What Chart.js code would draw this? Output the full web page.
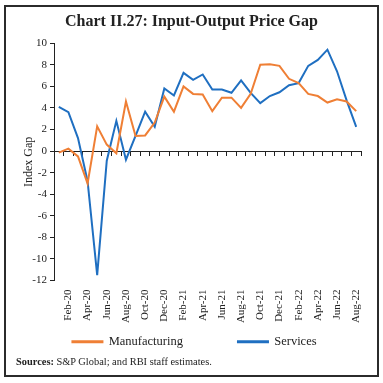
<!DOCTYPE html>
<html>
<head>
<meta charset="utf-8">
<script src="https://cdn.jsdelivr.net/npm/chart.js@4.4.1/dist/chart.umd.min.js"></script>
<style>
    body { margin: 0; background: #fff; }
    #wrap { position: relative; width: 383px; height: 383px; }
    #frame {
        position: absolute; left: 4px; top: 5px; width: 375px; height: 372px;
        border: 2px solid #2b2b2b; box-sizing: border-box; pointer-events: none;
    }
    #source {
        position: absolute; left: 16px; top: 356px;
        font: 10.4px 'Liberation Serif', serif; color: #222;
    }
</style>
</head>
<body>
<div id="wrap">
    <canvas id="gapChart" width="383" height="383"></canvas>
    <div id="frame"></div>
    <div id="source"><b>Sources:</b> S&amp;P Global; and RBI staff estimates.</div>
</div>
<script>
// Monthly input-output price gap, Jan-20 to Aug-22
const months = [
    'Jan-20', 'Feb-20', 'Mar-20', 'Apr-20', 'May-20', 'Jun-20', 'Jul-20', 'Aug-20',
    'Sep-20', 'Oct-20', 'Nov-20', 'Dec-20', 'Jan-21', 'Feb-21', 'Mar-21', 'Apr-21',
    'May-21', 'Jun-21', 'Jul-21', 'Aug-21', 'Sep-21', 'Oct-21', 'Nov-21', 'Dec-21',
    'Jan-22', 'Feb-22', 'Mar-22', 'Apr-22', 'May-22', 'Jun-22', 'Jul-22', 'Aug-22'
];
const manufacturing = [
    -0.15, 0.22, -0.5, -3.0, 2.3, 0.6, -0.2, 4.6,
    1.4, 1.45, 2.65, 5.05, 3.65, 6.0, 5.3, 5.25,
    3.7, 4.95, 4.95, 4.0, 5.3, 8.0, 8.05, 7.9,
    6.7, 6.3, 5.3, 5.1, 4.5, 4.8, 4.6, 3.7
];
const services = [
    4.1, 3.6, 1.2, -2.8, -11.5, -0.9, 2.8, -0.8,
    1.4, 3.65, 2.25, 5.8, 5.15, 7.25, 6.6, 7.1,
    5.7, 5.7, 5.4, 6.55, 5.4, 4.45, 5.1, 5.45,
    6.1, 6.3, 7.9, 8.45, 9.4, 7.4, 4.7, 2.25
];
const yMin = -12;
const yMax = 10;

const serif = "'Liberation Serif', 'DejaVu Serif', serif";
const ink = '#222';

// title and legend are centred on the whole canvas, not the padded area
const centerBoxes = {
    id: 'centerBoxes',
    afterLayout(chart) {
        if (chart.titleBlock) {
            chart.titleBlock.left = 0;
            chart.titleBlock.right = chart.width;
        }
        if (chart.legend) {
            chart.legend.left = 6;
            chart.legend.right = chart.width;
        }
    }
};

new Chart(document.getElementById('gapChart'), {
    type: 'line',
    data: {
        labels: months,
        datasets: [{
            label: 'Manufacturing',
            data: manufacturing,
            borderColor: '#ef7f35',
            backgroundColor: '#ef7f35',
            borderWidth: 2,
            pointRadius: 0,
            tension: 0
        }, {
            label: 'Services',
            data: services,
            borderColor: '#1f6fc1',
            backgroundColor: '#1f6fc1',
            borderWidth: 2,
            pointRadius: 0,
            tension: 0
        }]
    },
    options: {
        responsive: false,
        animation: false,
        layout: { padding: { left: 0, right: 22, top: 0, bottom: 25 } },
        plugins: {
            title: {
                display: true,
                text: 'Chart II.27: Input-Output Price Gap',
                color: ink,
                font: { family: serif, size: 16, weight: 'bold' },
                padding: { top: 12, bottom: 12 }
            },
            legend: {
                position: 'bottom',
                labels: {
                    color: ink,
                    font: { family: serif, size: 12.5 },
                    boxWidth: 30,
                    boxHeight: 1,
                    padding: 55
                }
            },
            tooltip: { enabled: false }
        },
        scales: {
            // zero line with tick marks between months
            x: {
                type: 'category',
                position: { y: 0 },
                offset: true,
                ticks: { display: false },
                grid: { display: true, drawOnChartArea: false, offset: true, tickLength: 4, color: ink },
                border: { color: ink, width: 1 }
            },
            // month labels under the plot
            x2: {
                type: 'category',
                position: { y: yMin },
                labels: months,
                offset: true,
                grid: { display: false, drawTicks: false },
                border: { display: false },
                ticks: {
                    autoSkip: false,
                    maxRotation: 90,
                    minRotation: 90,
                    padding: 9,
                    color: ink,
                    font: { family: serif, size: 11 },
                    callback: function (value, index) {
                        return index % 2 === 1 ? this.getLabelForValue(value) : '';
                    }
                }
            },
            y: {
                min: yMin,
                max: yMax,
                ticks: { stepSize: 2, padding: 3, color: ink, font: { family: serif, size: 11 } },
                grid: { drawOnChartArea: false, tickLength: 4, color: ink },
                border: { color: ink, width: 1 },
                title: {
                    display: true,
                    text: 'Index Gap',
                    color: ink,
                    font: { family: serif, size: 12 },
                    padding: { top: 22, bottom: 0 }
                },
                afterFit: function (scale) { scale.width = 54; }
            }
        }
    },
    plugins: [centerBoxes]
});
</script>
</body>
</html>
